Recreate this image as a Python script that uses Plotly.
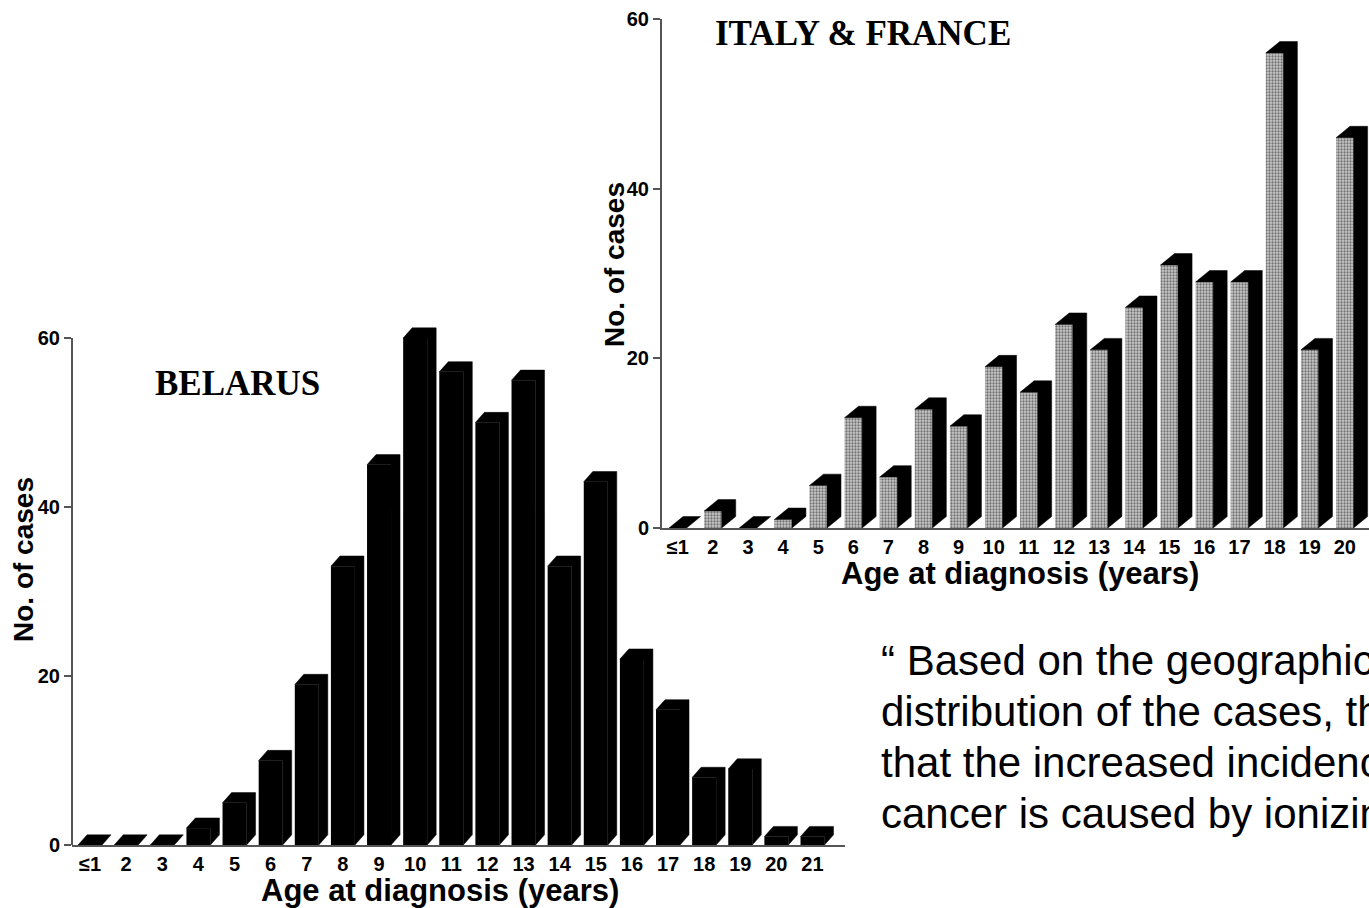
import numpy as np
import plotly.graph_objects as go

# ---------------- data ----------------
belarus_ages = ["≤1", "2", "3", "4", "5", "6", "7", "8", "9", "10", "11",
                "12", "13", "14", "15", "16", "17", "18", "19", "20", "21"]
belarus_cases = [0, 0, 0, 2, 5, 10, 19, 33, 45, 60, 56,
                 50, 55, 33, 43, 22, 16, 8, 9, 1, 1]

italy_france_ages = ["≤1", "2", "3", "4", "5", "6", "7", "8", "9", "10",
                     "11", "12", "13", "14", "15", "16", "17", "18", "19", "20"]
italy_france_cases = [0, 2, 0, 1, 5, 13, 6, 14, 12, 19,
                      16, 24, 21, 26, 31, 29, 29, 56, 21, 46]

y_ticks = [0, 20, 40, 60]

belarus_title = "BELARUS"
italy_title = "ITALY & FRANCE"
x_title = "Age at diagnosis (years)"
y_title = "No. of cases"
quote_lines = ["\u201c Based on the geographical",
               "distribution of the cases, there",
               "that the increased incidence",
               "cancer is caused by ionizing"]

# ---------------- geometry helpers ----------------
W, H = 1369, 908


def fx(p):
    return p / W


def fy(p):
    return 1 - p / H


def prism(values, w, dx, dy):
    """Top + right-side faces of pseudo-3D bars, in data coordinates."""
    xs, ys = [], []
    for i, v in enumerate(values):
        L, R = i - w / 2, i + w / 2
        xs += [L, L + dx, R + dx, R + dx, R, R, L, None]
        ys += [v, v + dy, v + dy, dy, 0, v, v, None]
    return xs, ys


BEL_W, BEL_DX, BEL_DY = 0.664, 0.25, 1.2
ITA_W, ITA_DX, ITA_DY = 0.50, 0.40, 1.35

fig = go.Figure()

# Belarus bars (solid black)
bx, by = prism(belarus_cases, BEL_W, BEL_DX, BEL_DY)
fig.add_trace(go.Scatter(x=bx, y=by, mode="lines", fill="toself",
                         fillcolor="black", line=dict(color="black", width=0.5),
                         xaxis="x", yaxis="y", hoverinfo="skip", showlegend=False))
fig.add_trace(go.Bar(x=np.arange(len(belarus_cases)), y=belarus_cases, width=BEL_W,
                     marker=dict(color="black", line=dict(width=0)),
                     xaxis="x", yaxis="y", showlegend=False, hoverinfo="skip"))

# Italy & France bars (stippled front, black top/side)
ix, iy = prism(italy_france_cases, ITA_W, ITA_DX, ITA_DY)
fig.add_trace(go.Scatter(x=ix, y=iy, mode="lines", fill="toself",
                         fillcolor="black", line=dict(color="black", width=0.5),
                         xaxis="x2", yaxis="y2", hoverinfo="skip", showlegend=False))
fig.add_trace(go.Bar(x=np.arange(len(italy_france_cases)), y=italy_france_cases,
                     width=ITA_W,
                     marker=dict(color="#b8b8b8", line=dict(width=0),
                                 pattern=dict(shape=".", fgcolor="#1a1a1a",
                                              bgcolor="#c9c9c9", size=3,
                                              solidity=0.45)),
                     xaxis="x2", yaxis="y2", showlegend=False, hoverinfo="skip"))

tick_font = dict(family="Liberation Sans, Arial, sans-serif", size=20,
                 color="black", weight="bold")
axis_col = "#555555"

BEL_Y0, BEL_PPU = 845, 8.45
fig.update_layout(
    width=W, height=H,
    margin=dict(l=0, r=0, t=0, b=0, autoexpand=False),
    paper_bgcolor="white", plot_bgcolor="rgba(0,0,0,0)",
    barmode="overlay",
    xaxis=dict(domain=[fx(72), fx(845)], range=[-0.5, 20.9], anchor="y",
               tickmode="array", tickvals=list(range(len(belarus_ages))),
               ticktext=belarus_ages, ticks="", showgrid=False, zeroline=False,
               showline=True, linecolor=axis_col, linewidth=2,
               tickfont=tick_font, automargin=False),
    yaxis=dict(domain=[fy(BEL_Y0), fy(BEL_Y0 - 63 * BEL_PPU)], range=[0, 63],
               anchor="x", tickmode="array", tickvals=y_ticks,
               ticks="outside", ticklen=7, tickwidth=2, tickcolor=axis_col,
               showgrid=False, zeroline=False, showline=False,
               tickfont=tick_font, automargin=False),
    xaxis2=dict(domain=[fx(662), 1.0], range=[-0.45, 19.69], anchor="y2",
                tickmode="array", tickvals=list(range(len(italy_france_ages))),
                ticktext=italy_france_ages, ticks="", showgrid=False,
                zeroline=False, showline=True, linecolor=axis_col, linewidth=2,
                tickfont=tick_font, automargin=False),
    yaxis2=dict(domain=[fy(528), fy(19)], range=[0, 60], anchor="x2",
                tickmode="array", tickvals=y_ticks,
                ticks="outside", ticklen=7, tickwidth=2, tickcolor=axis_col,
                showgrid=False, zeroline=False, showline=True,
                linecolor=axis_col, linewidth=2, tickfont=tick_font,
                automargin=False),
)

# Belarus y-axis line only up to 60
fig.add_shape(type="line", xref="x domain", yref="y", x0=0, x1=0, y0=0, y1=60,
              line=dict(color=axis_col, width=2))

serif = dict(family="Liberation Serif, Times New Roman, serif", size=35,
             color="black", weight="bold")
sans_title = dict(family="Liberation Sans, Arial, sans-serif", size=31,
                  color="black", weight="bold")
ytitle_font = dict(family="Liberation Sans, Arial, sans-serif", size=28,
                   color="black", weight="bold")
quote_font = dict(family="Liberation Sans, Arial, sans-serif", size=42,
                  color="black")

ann = [
    dict(text=belarus_title, x=fx(153), y=fy(384), xanchor="left",
         yanchor="middle", font=serif),
    dict(text=italy_title, x=fx(713), y=fy(33), xanchor="left",
         yanchor="middle", font=serif),
    dict(text=x_title, x=fx(440), y=fy(890), xanchor="center",
         yanchor="middle", font=sans_title),
    dict(text=x_title, x=fx(1020), y=fy(573), xanchor="center",
         yanchor="middle", font=sans_title),
    dict(text=y_title, x=fx(23), y=fy(560), xanchor="center",
         yanchor="middle", textangle=-90, font=ytitle_font),
    dict(text=y_title, x=fx(614), y=fy(265), xanchor="center",
         yanchor="middle", textangle=-90, font=ytitle_font),
]
for k, line in enumerate(quote_lines):
    ann.append(dict(text=line, x=fx(879), y=fy(660 + 51 * k),
                    xanchor="left", yanchor="middle", align="left",
                    font=quote_font))
for a in ann:
    a.update(xref="paper", yref="paper", showarrow=False)
fig.update_layout(annotations=ann)

fig.write_html("out.html", config={"displayModeBar": False},
               post_script="document.body.style.margin='0';")
